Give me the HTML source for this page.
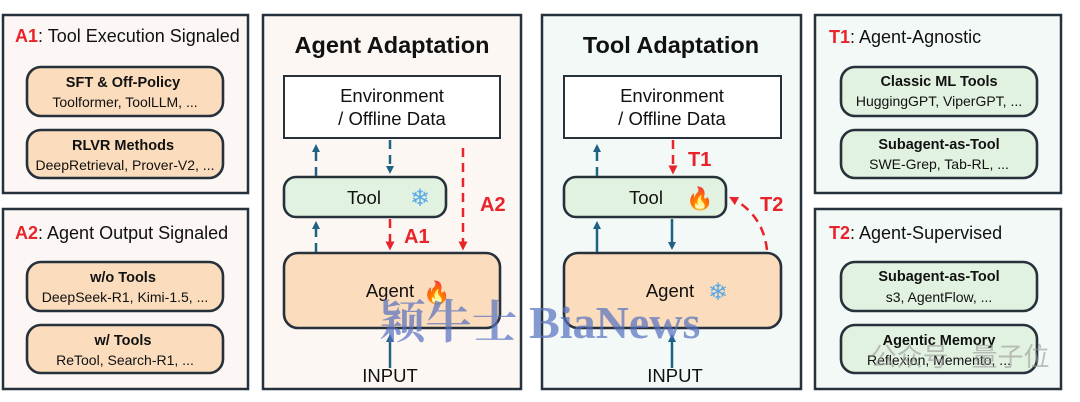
<!DOCTYPE html>
<html><head><meta charset="utf-8"><style>
html,body{margin:0;padding:0;background:#fff;}
svg{display:block;font-family:"Liberation Sans",Arial,sans-serif;}
</style></head><body>
<svg width="1080" height="402" viewBox="0 0 1080 402" xmlns="http://www.w3.org/2000/svg">
<defs>
<marker id="bh" markerWidth="8" markerHeight="8" refX="4" refY="4" orient="auto" markerUnits="userSpaceOnUse"><path d="M0,0 L8,4 L0,8 z" fill="#1f6283"/></marker>
<marker id="rh" markerWidth="9" markerHeight="9" refX="4.5" refY="4.5" orient="auto" markerUnits="userSpaceOnUse"><path d="M0,0 L9,4.5 L0,9 z" fill="#e8242a"/></marker>
</defs>
<rect width="1080" height="402" fill="#fff"/>
<g stroke="#27313b" stroke-width="2.5">
<rect x="3" y="15" width="245" height="178" fill="#fcf7f5"/>
<rect x="3" y="209" width="245" height="180" fill="#fcf7f5"/>
<rect x="263" y="15" width="258" height="374" fill="#fdf7f4"/>
<rect x="542" y="15" width="259" height="374" fill="#f3f9f7"/>
<rect x="815" y="15" width="246" height="178" fill="#f3f9f7"/>
<rect x="815" y="209" width="246" height="180" fill="#f3f9f7"/>
</g>
<g stroke="#27313b" stroke-width="2.6">
<rect x="27" y="67" width="196" height="49" rx="14" fill="#fbdcbd"/>
<rect x="27" y="130" width="196" height="48" rx="14" fill="#fbdcbd"/>
<rect x="27" y="262" width="196" height="49" rx="14" fill="#fbdcbd"/>
<rect x="27" y="325" width="196" height="48" rx="14" fill="#fbdcbd"/>
<rect x="841" y="67" width="196" height="49" rx="14" fill="#e2f2e0"/>
<rect x="841" y="130" width="196" height="48" rx="14" fill="#e2f2e0"/>
<rect x="841" y="262" width="196" height="49" rx="14" fill="#e2f2e0"/>
<rect x="841" y="325" width="196" height="48" rx="14" fill="#e2f2e0"/>
<rect x="284" y="76" width="216" height="62" fill="#fff" stroke-width="2"/>
<rect x="284" y="177" width="162" height="40" rx="12" fill="#e2f2e0"/>
<rect x="284" y="253" width="216" height="75" rx="14" fill="#fbdcbd"/>
<rect x="564" y="76" width="217" height="62" fill="#fff" stroke-width="2"/>
<rect x="564" y="177" width="162" height="40" rx="12" fill="#e2f2e0"/>
<rect x="564" y="253" width="217" height="75" rx="14" fill="#fbdcbd"/>
</g>
<g font-size="18" fill="#111">
<text x="15" y="42"><tspan fill="#e8242a" font-weight="bold">A1</tspan>: Tool Execution Signaled</text>
<text x="15" y="239"><tspan fill="#e8242a" font-weight="bold">A2</tspan>: Agent Output Signaled</text>
<text x="829" y="43"><tspan fill="#e8242a" font-weight="bold">T1</tspan>: Agent-Agnostic</text>
<text x="829" y="239"><tspan fill="#e8242a" font-weight="bold">T2</tspan>: Agent-Supervised</text>
</g>
<g text-anchor="middle" fill="#111">
<g font-size="14.5" font-weight="bold">
<text x="123" y="87">SFT &amp; Off-Policy</text>
<text x="123" y="150">RLVR Methods</text>
<text x="123" y="282">w/o Tools</text>
<text x="123" y="345">w/ Tools</text>
<text x="939" y="86">Classic ML Tools</text>
<text x="939" y="149">Subagent-as-Tool</text>
<text x="939" y="281">Subagent-as-Tool</text>
<text x="939" y="345">Agentic Memory</text>
</g>
<g font-size="14">
<text x="125" y="107">Toolformer, ToolLLM, ...</text>
<text x="125" y="170">DeepRetrieval, Prover-V2, ...</text>
<text x="125" y="302">DeepSeek-R1, Kimi-1.5, ...</text>
<text x="125" y="365">ReTool, Search-R1, ...</text>
<text x="939" y="106">HuggingGPT, ViperGPT, ...</text>
<text x="939" y="169">SWE-Grep, Tab-RL, ...</text>
<text x="939" y="302">s3, AgentFlow, ...</text>
<text x="939" y="365">Reflexion, Memento, ...</text>
</g>
<g font-size="23.5" font-weight="bold">
<text x="392" y="53">Agent Adaptation</text>
<text x="671" y="53">Tool Adaptation</text>
</g>
<g font-size="18.5">
<text x="392" y="102">Environment</text>
<text x="392" y="125">/ Offline Data</text>
<text x="672" y="102">Environment</text>
<text x="672" y="125">/ Offline Data</text>
<text x="364" y="204">Tool</text>
<text x="646" y="204">Tool</text>
<text x="390" y="297">Agent</text>
<text x="670" y="297">Agent</text>
<text x="390" y="382">INPUT</text>
<text x="675" y="382">INPUT</text>
</g>
<text x="420" y="206" font-size="24" fill="#5aa9e6">❄</text>
<text x="718" y="300" font-size="24" fill="#5aa9e6">❄</text>
<text x="437" y="300" font-size="22" fill="#f07a1a">🔥</text>
<text x="700" y="206" font-size="22" fill="#f07a1a">🔥</text>
</g>
<g fill="#e8242a" font-weight="bold" font-size="20">
<text x="404" y="243">A1</text>
<text x="480" y="211">A2</text>
<text x="688" y="166">T1</text>
<text x="760" y="211">T2</text>
</g>
<g stroke="#1f6283" stroke-width="2.5" fill="none">
<line x1="316" y1="176" x2="316" y2="148" stroke-dasharray="9,6" marker-end="url(#bh)"/>
<line x1="316" y1="252" x2="316" y2="225" stroke-dasharray="9,6" marker-end="url(#bh)"/>
<line x1="390" y1="140" x2="390" y2="170" stroke-dasharray="9,6" marker-end="url(#bh)"/>
<line x1="390" y1="368" x2="390" y2="338" marker-end="url(#bh)"/>
<line x1="597" y1="176" x2="597" y2="148" stroke-dasharray="9,6" marker-end="url(#bh)"/>
<line x1="597" y1="252" x2="597" y2="225" marker-end="url(#bh)"/>
<line x1="672" y1="219" x2="672" y2="246" marker-end="url(#bh)"/>
<line x1="672" y1="368" x2="672" y2="338" marker-end="url(#bh)"/>
</g>
<g stroke="#e8242a" stroke-width="2.5" fill="none" stroke-dasharray="9,6">
<line x1="390" y1="219" x2="390" y2="246" marker-end="url(#rh)"/>
<line x1="463" y1="148" x2="463" y2="246" marker-end="url(#rh)"/>
<line x1="673" y1="140" x2="673" y2="170" marker-end="url(#rh)"/>
<path d="M767,250 Q763,215 733,199" marker-end="url(#rh)"/>
</g>
<text x="540" y="338" text-anchor="middle" font-family="'Liberation Serif','Noto Serif CJK SC',serif" font-size="46" font-weight="bold" fill="#5470c0" opacity="0.7">颖牛士 BiaNews</text>
<text x="960" y="366" text-anchor="middle" font-family="'Liberation Sans','Noto Sans CJK SC',sans-serif" font-size="26" fill="#999" opacity="0.6">公众号 · 量子位</text>
</svg>
</body></html>
